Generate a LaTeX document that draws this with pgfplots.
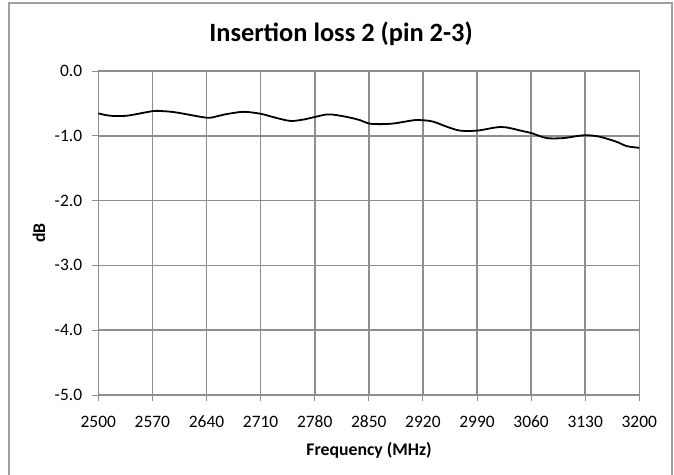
\documentclass[border=0pt]{standalone}
\usepackage{pgfplots}
\pgfplotsset{compat=1.18}
\usepackage{fontspec}
\setmainfont{Carlito}
\definecolor{gridgray}{HTML}{8E8E8E}
\definecolor{framegray}{HTML}{A0A0A0}
\newcommand\tlf{\fontsize{17.5}{17.5}\selectfont}
\begin{document}
\begin{tikzpicture}[x=1bp,y=1bp]
\useasboundingbox (0,0) rectangle (674,-475);
\draw[framegray,line width=1.2bp] (9,-490) -- (9,-3) -- (672,-3) -- (672,-490);
\begin{axis}[
  at={(98.3bp,-395bp)}, anchor=south west,
  scale only axis, width=541bp, height=324bp,
  xmin=2500, xmax=3200, ymin=-5, ymax=0,
  xtick={2500,2570,2640,2710,2780,2850,2920,2990,3060,3130,3200},
  xticklabels={2500,2570,2640,2710,2780,2850,2920,2990,3060,3130,3200},
  ytick={-5,-4,-3,-2,-1,0},
  yticklabels={-5.0,-4.0,-3.0,-2.0,-1.0,0.0},
  grid=major,
  major grid style={gridgray,line width=1.6bp},
  axis line style={gridgray,line width=1.6bp},
  tick style={gridgray,line width=1bp},
  tick align=outside, major tick length=6bp,
  xtick pos=bottom, ytick pos=left,
  tick label style={inner sep=0pt, font=\tlf},
  xticklabel style={anchor=base, yshift=-26bp},
  yticklabel style={anchor=east, xshift=-10bp},
]
\addplot[black,line width=1.8bp,smooth,tension=0.5] coordinates {
(2500,-0.654) (2515,-0.69) (2537,-0.69) (2570,-0.62) (2584,-0.62) (2601,-0.64)
(2640,-0.72) (2653,-0.70) (2666,-0.665) (2688,-0.63) (2710,-0.66) (2726,-0.71)
(2748,-0.77) (2765,-0.75) (2780,-0.71) (2796,-0.67) (2808,-0.68) (2826,-0.72)
(2839,-0.76) (2850,-0.81) (2863,-0.82) (2882,-0.81) (2908,-0.76) (2920,-0.76)
(2933,-0.78) (2951,-0.86) (2968,-0.92) (2990,-0.92) (3015,-0.87) (3028,-0.87)
(3050,-0.93) (3061,-0.96) (3080,-1.035) (3102,-1.035) (3119,-1.005) (3132,-0.99)
(3149,-1.015) (3170,-1.09) (3184,-1.16) (3200,-1.185)
};
\end{axis}
\node[anchor=base,inner sep=0pt,font=\fontsize{26.5}{26.5}\selectfont\bfseries] at (341,-42) {Insertion loss 2 (pin 2-3)};
\node[anchor=base,inner sep=0pt,font=\fontsize{17.8}{17.8}\selectfont\bfseries] at (369,-455) {Frequency (MHz)};
\node[rotate=90,inner sep=0pt,font=\fontsize{17.8}{17.8}\selectfont\bfseries] at (39,-233) {dB};
\end{tikzpicture}
\end{document}
